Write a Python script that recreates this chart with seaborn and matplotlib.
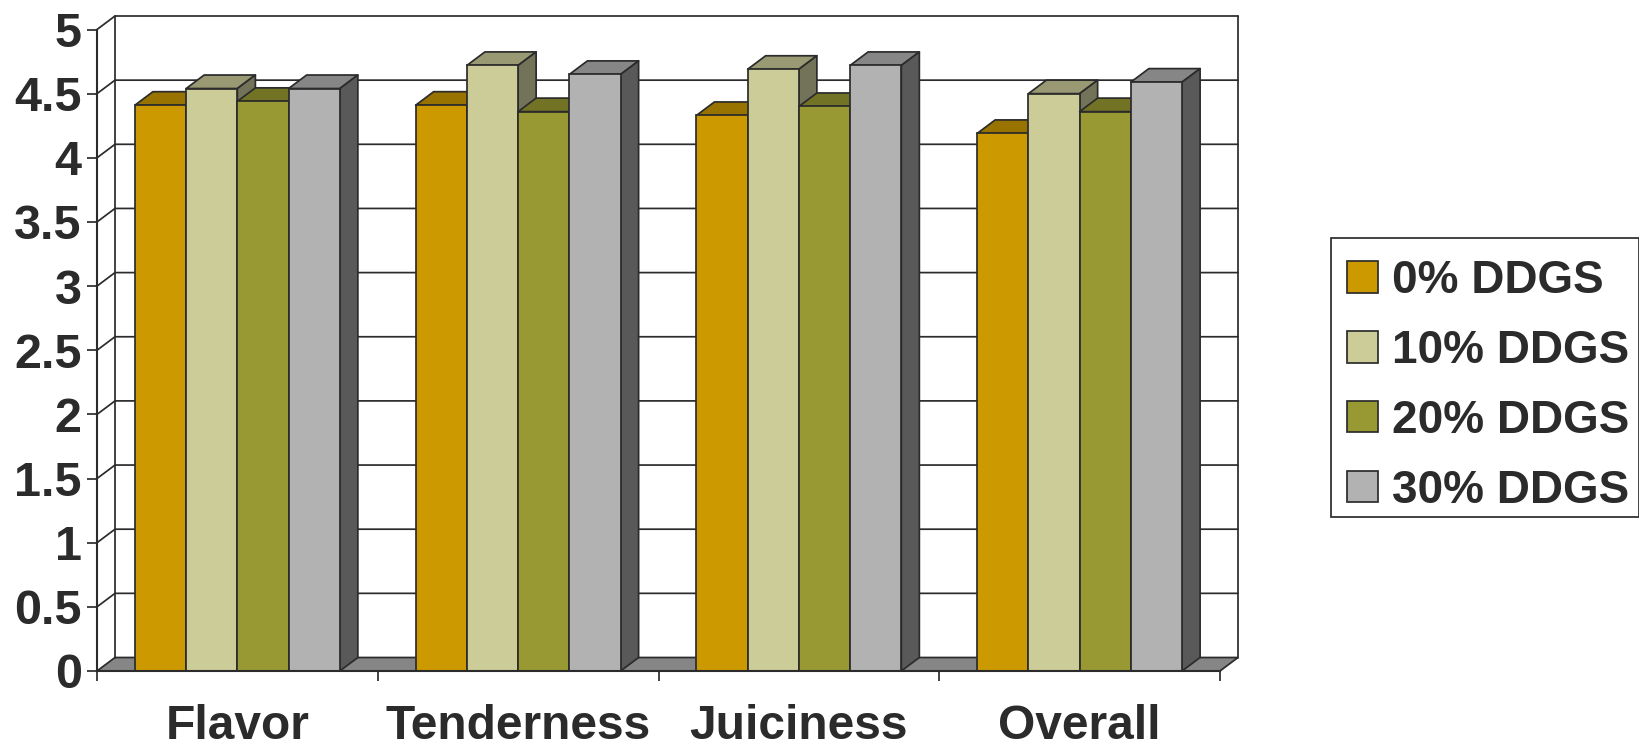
import matplotlib
matplotlib.use("Agg")
import matplotlib.pyplot as plt
from matplotlib.patches import Polygon, Rectangle
import pandas as pd
import seaborn as sns

categories = ["Flavor", "Tenderness", "Juiciness", "Overall"]
series = ["0% DDGS", "10% DDGS", "20% DDGS", "30% DDGS"]
v0 = [4.41, 4.41, 4.33, 4.19]
v10 = [4.54, 4.72, 4.69, 4.50]
v20 = [4.44, 4.36, 4.40, 4.36]
v30 = [4.54, 4.65, 4.72, 4.59]
ytick_labels = ["0", "0.5", "1", "1.5", "2", "2.5", "3", "3.5", "4", "4.5", "5"]
front_colors = ["#CC9900", "#CCCC99", "#999933", "#B2B2B2"]
top_colors = ["#997300", "#999973", "#737326", "#868686"]
side_colors = ["#664C00", "#737359", "#59591F", "#595959"]

INK = "#2B2B2B"
LW = 1.25
W, H = 1639, 744
sns.set_style("white")
plt.rcParams["font.family"] = ["Liberation Sans", "DejaVu Sans"]

df = pd.DataFrame({"category": categories * 4,
                   "value": v0 + v10 + v20 + v30,
                   "series": [s for s in series for _ in categories]})

fig = plt.figure(figsize=(W / 100, H / 100), dpi=100)
L, R, T, B = 97, 1220, 29.5, 671
ax = fig.add_axes([L / W, 1 - B / H, (R - L) / W, (B - T) / H])
sns.barplot(data=df, x="category", y="value", hue="series", hue_order=series,
            order=categories, palette=front_colors, saturation=1, width=0.73,
            gap=0, edgecolor=INK, linewidth=LW, ax=ax, legend=False)
ax.set_xlim(-0.5, 3.5)
ax.set_ylim(0, 5)

# oblique depth of the fake 3-D box, in data units
dx = 18 / ((R - L) / 4)
dy = 13.5 / ((B - T) / 5)
xl, xr = -0.5, 3.5
line = dict(color=INK, lw=LW, clip_on=False)

# back wall, floor and grid
ax.add_patch(Polygon([(xl, 0), (xr, 0), (xr + dx, dy), (xl + dx, dy)], closed=True,
                     fc="#868686", ec=INK, lw=LW, clip_on=False, zorder=0.5))
for i in range(1, 11):
    y = i * 0.5
    ax.plot([xl, xl + dx, xr + dx], [y, y + dy, y + dy], zorder=0.6, **line)
ax.plot([xl + dx, xl + dx], [dy, 5 + dy], zorder=0.6, **line)
ax.plot([xr + dx, xr + dx], [dy, 5 + dy], zorder=0.6, **line)

# faces of the bars: left to right so each bar overlaps its neighbour's depth
for s, cont in enumerate(ax.containers):
    z = 2 + s
    for bar in cont:
        x0, w, h = bar.get_x(), bar.get_width(), bar.get_height()
        x1 = x0 + w
        bar.set_zorder(z + 0.2)
        ax.add_patch(Polygon([(x0, h), (x1, h), (x1 + dx, h + dy), (x0 + dx, h + dy)],
                             closed=True, fc=top_colors[s], ec=INK, lw=LW,
                             joinstyle="round", clip_on=False, zorder=z))
        ax.add_patch(Polygon([(x1, 0), (x1 + dx, dy), (x1 + dx, h + dy), (x1, h)],
                             closed=True, fc=side_colors[s], ec=INK, lw=LW,
                             joinstyle="round", clip_on=False, zorder=z))

for side in ("top", "right"):
    ax.spines[side].set_visible(False)
for side in ("left", "bottom"):
    ax.spines[side].set_visible(True)
    ax.spines[side].set_color(INK)
    ax.spines[side].set_linewidth(1.5)
    ax.spines[side].set_zorder(20)

ax.set_xlabel("")
ax.set_ylabel("")
ax.set_yticks([i * 0.5 for i in range(11)], ytick_labels)
ax.set_xticks(range(4), categories)
ax.set_xticks([-0.5, 0.5, 1.5, 2.5, 3.5], minor=True)
ax.tick_params(axis="y", which="major", left=True, length=7.5, width=LW, color=INK,
               labelsize=35, labelcolor=INK, pad=3.5)
ax.tick_params(axis="x", which="major", bottom=False, length=0, labelsize=34.5,
               labelcolor=INK, pad=24)
ax.tick_params(axis="x", which="minor", bottom=True, length=7.5, width=LW, color=INK)
for t in ax.get_xticklabels() + ax.get_yticklabels():
    t.set_fontweight("bold")

# legend box is uneven around its rows, so it is drawn apart from the entries
fig.add_artist(Rectangle((1331 / W, 1 - 517 / H), (W - 1331) / W, 279 / H,
                         transform=fig.transFigure, fc="white", ec=INK, lw=LW, zorder=-1))
handles = [Rectangle((0, 0), 1, 1, fc=c, ec=INK, lw=LW) for c in front_colors]
ax.legend(handles, series, loc="upper left",
          bbox_to_anchor=(1347 / W, 1 - 259 / H), bbox_transform=fig.transFigure,
          prop={"family": "Liberation Sans", "weight": "bold", "size": 33},
          labelcolor=INK, frameon=False, borderaxespad=0, borderpad=0,
          labelspacing=0.565, handlelength=0.68, handleheight=0.68, handletextpad=0.3)

fig.savefig("out.png", dpi=100, facecolor="white")
